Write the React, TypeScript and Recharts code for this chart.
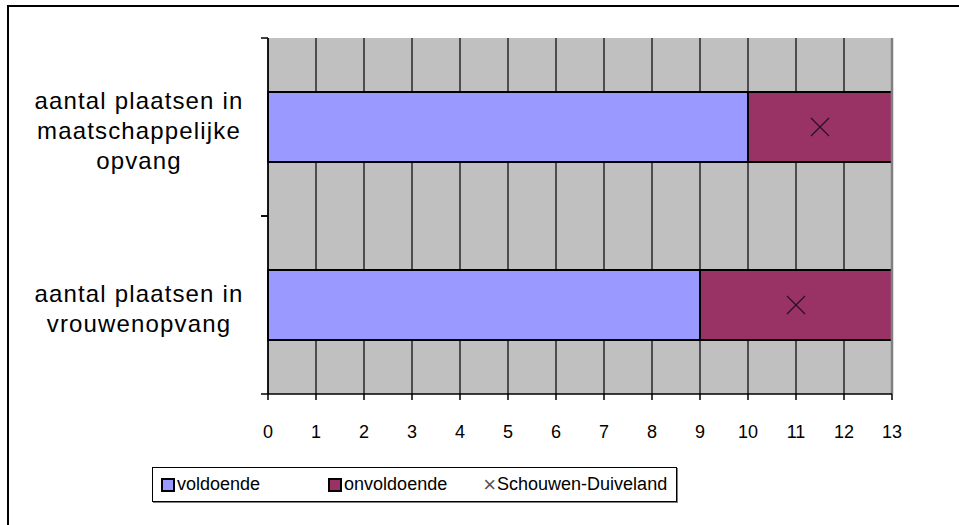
import React from 'react'
import {
  ComposedChart, Bar, Line, XAxis, YAxis, CartesianGrid, ReferenceLine,
} from 'recharts'

const categories = [
  'aantal plaatsen in\nmaatschappelijke\nopvang',
  'aantal plaatsen in\nvrouwenopvang',
]
const voldoende = [10, 9]
const onvoldoende = [3, 4]
const schouwenDuiveland = [11.5, 11]
const xTicks = [0, 1, 2, 3, 4, 5, 6, 7, 8, 9, 10, 11, 12, 13]

const data = categories.map((name, i) => ({
  name,
  voldoende: voldoende[i],
  onvoldoende: onvoldoende[i],
  sd: schouwenDuiveland[i],
}))

const FONT = '"Liberation Sans", Arial, sans-serif'

const CategoryTick = (props: any) => {
  const { y, payload } = props
  const half = payload?.offset ?? 89
  const lines = String(payload.value).split('\n')
  const lh = 30
  const start = y + 4 - ((lines.length - 1) * lh) / 2
  return (
    <g>
      <line x1={261} x2={268} y1={y - half} y2={y - half} stroke="#000" strokeWidth={1.5} />
      <line x1={261} x2={268} y1={y + half} y2={y + half} stroke="#000" strokeWidth={1.5} />
      {lines.map((l, i) => (
        <text
          key={i}
          x={139}
          y={start + i * lh}
          dy="0.35em"
          textAnchor="middle"
          fontSize={24}
          letterSpacing={1.15}
          fontFamily={FONT}
          fill="#000"
        >
          {l}
        </text>
      ))}
    </g>
  )
}

const CrossDot = (props: any) => {
  const { cx, cy } = props
  if (cx == null || cy == null) return null
  const r = 9
  return (
    <path
      d={`M${cx - r},${cy - r}L${cx + r},${cy + r}M${cx - r},${cy + r}L${cx + r},${cy - r}`}
      stroke="#2b1020"
      strokeWidth={1.3}
      fill="none"
    />
  )
}

const LegendBox = () => (
  <div
    style={{
      position: 'absolute', left: 152, top: 467, width: 523, height: 33,
      border: '1.5px solid #000', boxShadow: '1px 1px 0 #808080',
      display: 'flex', alignItems: 'center', fontFamily: FONT, fontSize: 18,
      color: '#000', background: '#fff',
    }}
  >
    <span style={{ marginLeft: 8, width: 10, height: 10, border: '2px solid #000', background: '#9999FF' }} />
    <span style={{ marginLeft: 2 }}>voldoende</span>
    <span style={{ marginLeft: 68, width: 10, height: 10, border: '2px solid #000', background: '#993366' }} />
    <span style={{ marginLeft: 2 }}>onvoldoende</span>
    <span style={{ marginLeft: 36, color: '#555', fontSize: 22, lineHeight: '18px' }}>×</span>
    <span style={{ marginLeft: 1 }}>Schouwen-Duiveland</span>
  </div>
)

export default function App() {
  return (
    <div style={{ position: 'fixed', left: 0, top: 0, width: 959, height: 525, overflow: 'hidden', background: '#fff' }}>
      <div style={{ position: 'absolute', left: 7, top: 5, width: 1000, height: 600, borderLeft: '2px solid #000', borderTop: '2.5px solid #000' }} />
      <div style={{ position: 'absolute', left: 0, top: 0 }}>
        <ComposedChart
          layout="vertical"
          width={959}
          height={525}
          data={data}
          margin={{ top: 38, right: 67, left: 0, bottom: 91 }}
          barSize={70}
        >
          <CartesianGrid horizontal={false} stroke="#000" strokeWidth={1.2} fill="#C0C0C0" fillOpacity={1} />
          <XAxis
            type="number"
            domain={[0, 13]}
            ticks={xTicks}
            interval={0}
            height={40}
            axisLine={{ stroke: '#000', strokeWidth: 1.5 }}
            tickLine={{ stroke: '#000', strokeWidth: 1.5 }}
            tickSize={6}
            tickMargin={25}
            tick={{ fontSize: 18, fill: '#000', fontFamily: FONT }}
          />
          <XAxis
            xAxisId="top"
            orientation="top"
            type="number"
            domain={[0, 13]}
            height={0}
            tick={false}
            tickLine={false}
            axisLine={{ stroke: '#808080', strokeWidth: 2 }}
          />
          <YAxis
            type="category"
            dataKey="name"
            width={268}
            axisLine={{ stroke: '#000', strokeWidth: 1.5 }}
            tickLine={false}
            tick={<CategoryTick />}
            interval={0}
          />
          <ReferenceLine x={13} stroke="#808080" strokeWidth={2.5} />
          <Bar dataKey="voldoende" stackId="a" fill="#9999FF" stroke="#000" strokeWidth={2} isAnimationActive={false} />
          <Bar dataKey="onvoldoende" stackId="a" fill="#993366" stroke="#000" strokeWidth={2} isAnimationActive={false} />
          <Line dataKey="sd" stroke="none" dot={<CrossDot />} activeDot={false} isAnimationActive={false} legendType="none" />
        </ComposedChart>
      </div>
      <LegendBox />
    </div>
  )
}
